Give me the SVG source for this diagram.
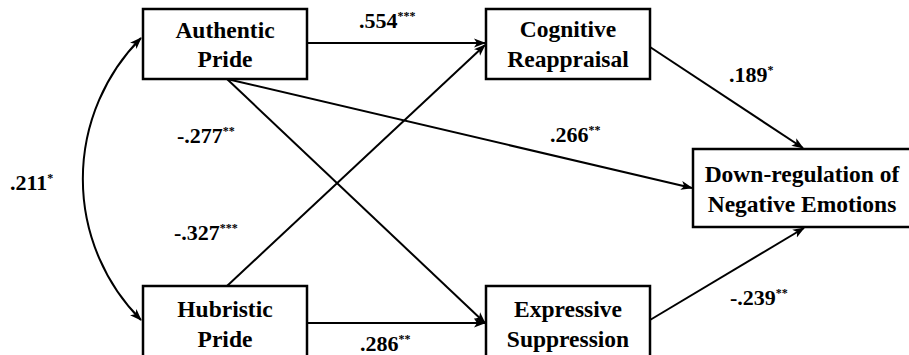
<svg xmlns="http://www.w3.org/2000/svg" width="909" height="355" viewBox="0 0 909 355">
<defs>
<style>
.box{fill:#fff;stroke:#000;stroke-width:2.5}
.t{font-family:"Liberation Serif","Times New Roman",serif;font-weight:bold;font-size:22px;fill:#000}
.n{font-size:23.5px}
.c{text-anchor:middle}
.sup{font-size:12px}
.ln{fill:none;stroke:#000;stroke-width:2}
</style>
<marker id="ah" viewBox="0 0 12 10" refX="11" refY="5" markerWidth="12" markerHeight="10" markerUnits="userSpaceOnUse" orient="auto-start-reverse">
<path d="M0,0.5 L12,5 L0,9.5 L3,5 Z" fill="#000"/>
</marker>
</defs>
<rect width="909" height="355" fill="#fff"/>
<g id="connectors">
<line class="ln" x1="307" y1="43" x2="485" y2="43" marker-end="url(#ah)"/>
<line class="ln" x1="227" y1="79" x2="692" y2="188" marker-end="url(#ah)"/>
<line class="ln" x1="227" y1="79" x2="485" y2="323" marker-end="url(#ah)"/>
<line class="ln" x1="227" y1="286" x2="485" y2="45" marker-end="url(#ah)"/>
<line class="ln" x1="307" y1="323" x2="485" y2="323" marker-end="url(#ah)"/>
<line class="ln" x1="650" y1="47" x2="803" y2="148" marker-end="url(#ah)"/>
<line class="ln" x1="650" y1="320" x2="804" y2="228" marker-end="url(#ah)"/>
<path class="ln" d="M141,38 A200,200 0 0,0 141,320" marker-start="url(#ah)" marker-end="url(#ah)"/>
</g>
<g id="labels">
<text class="t" x="359" y="28">.554<tspan class="sup" dy="-8">***</tspan></text>
<text class="t" x="177" y="143">-.277<tspan class="sup" dy="-8">**</tspan></text>
<text class="t" x="550" y="142">.266<tspan class="sup" dy="-8">**</tspan></text>
<text class="t" x="729" y="82">.189<tspan class="sup" dy="-8">*</tspan></text>
<text class="t" x="10" y="190">.211<tspan class="sup" dy="-8">*</tspan></text>
<text class="t" x="174" y="240">-.327<tspan class="sup" dy="-8">***</tspan></text>
<text class="t" x="360" y="351">.286<tspan class="sup" dy="-8">**</tspan></text>
<text class="t" x="730" y="305">-.239<tspan class="sup" dy="-8">**</tspan></text>
</g>
<g id="authentic-pride">
<rect class="box" x="143" y="9" width="164" height="70"/>
<text class="t n c" x="225" y="38">Authentic</text>
<text class="t n c" x="225" y="67">Pride</text>
</g>
<g id="hubristic-pride">
<rect class="box" x="143" y="286" width="164" height="72"/>
<text class="t n c" x="225" y="317">Hubristic</text>
<text class="t n c" x="225" y="347">Pride</text>
</g>
<g id="cognitive-reappraisal">
<rect class="box" x="486" y="9" width="164" height="70"/>
<text class="t n c" x="568" y="37">Cognitive</text>
<text class="t n c" x="568" y="67">Reappraisal</text>
</g>
<g id="expressive-suppression">
<rect class="box" x="486" y="286" width="164" height="72"/>
<text class="t n c" x="568" y="317">Expressive</text>
<text class="t n c" x="568" y="347">Suppression</text>
</g>
<g id="down-regulation">
<rect class="box" x="693" y="149" width="219" height="78"/>
<text class="t n c" x="802" y="182">Down-regulation of</text>
<text class="t n c" x="802" y="212">Negative Emotions</text>
</g>
</svg>
